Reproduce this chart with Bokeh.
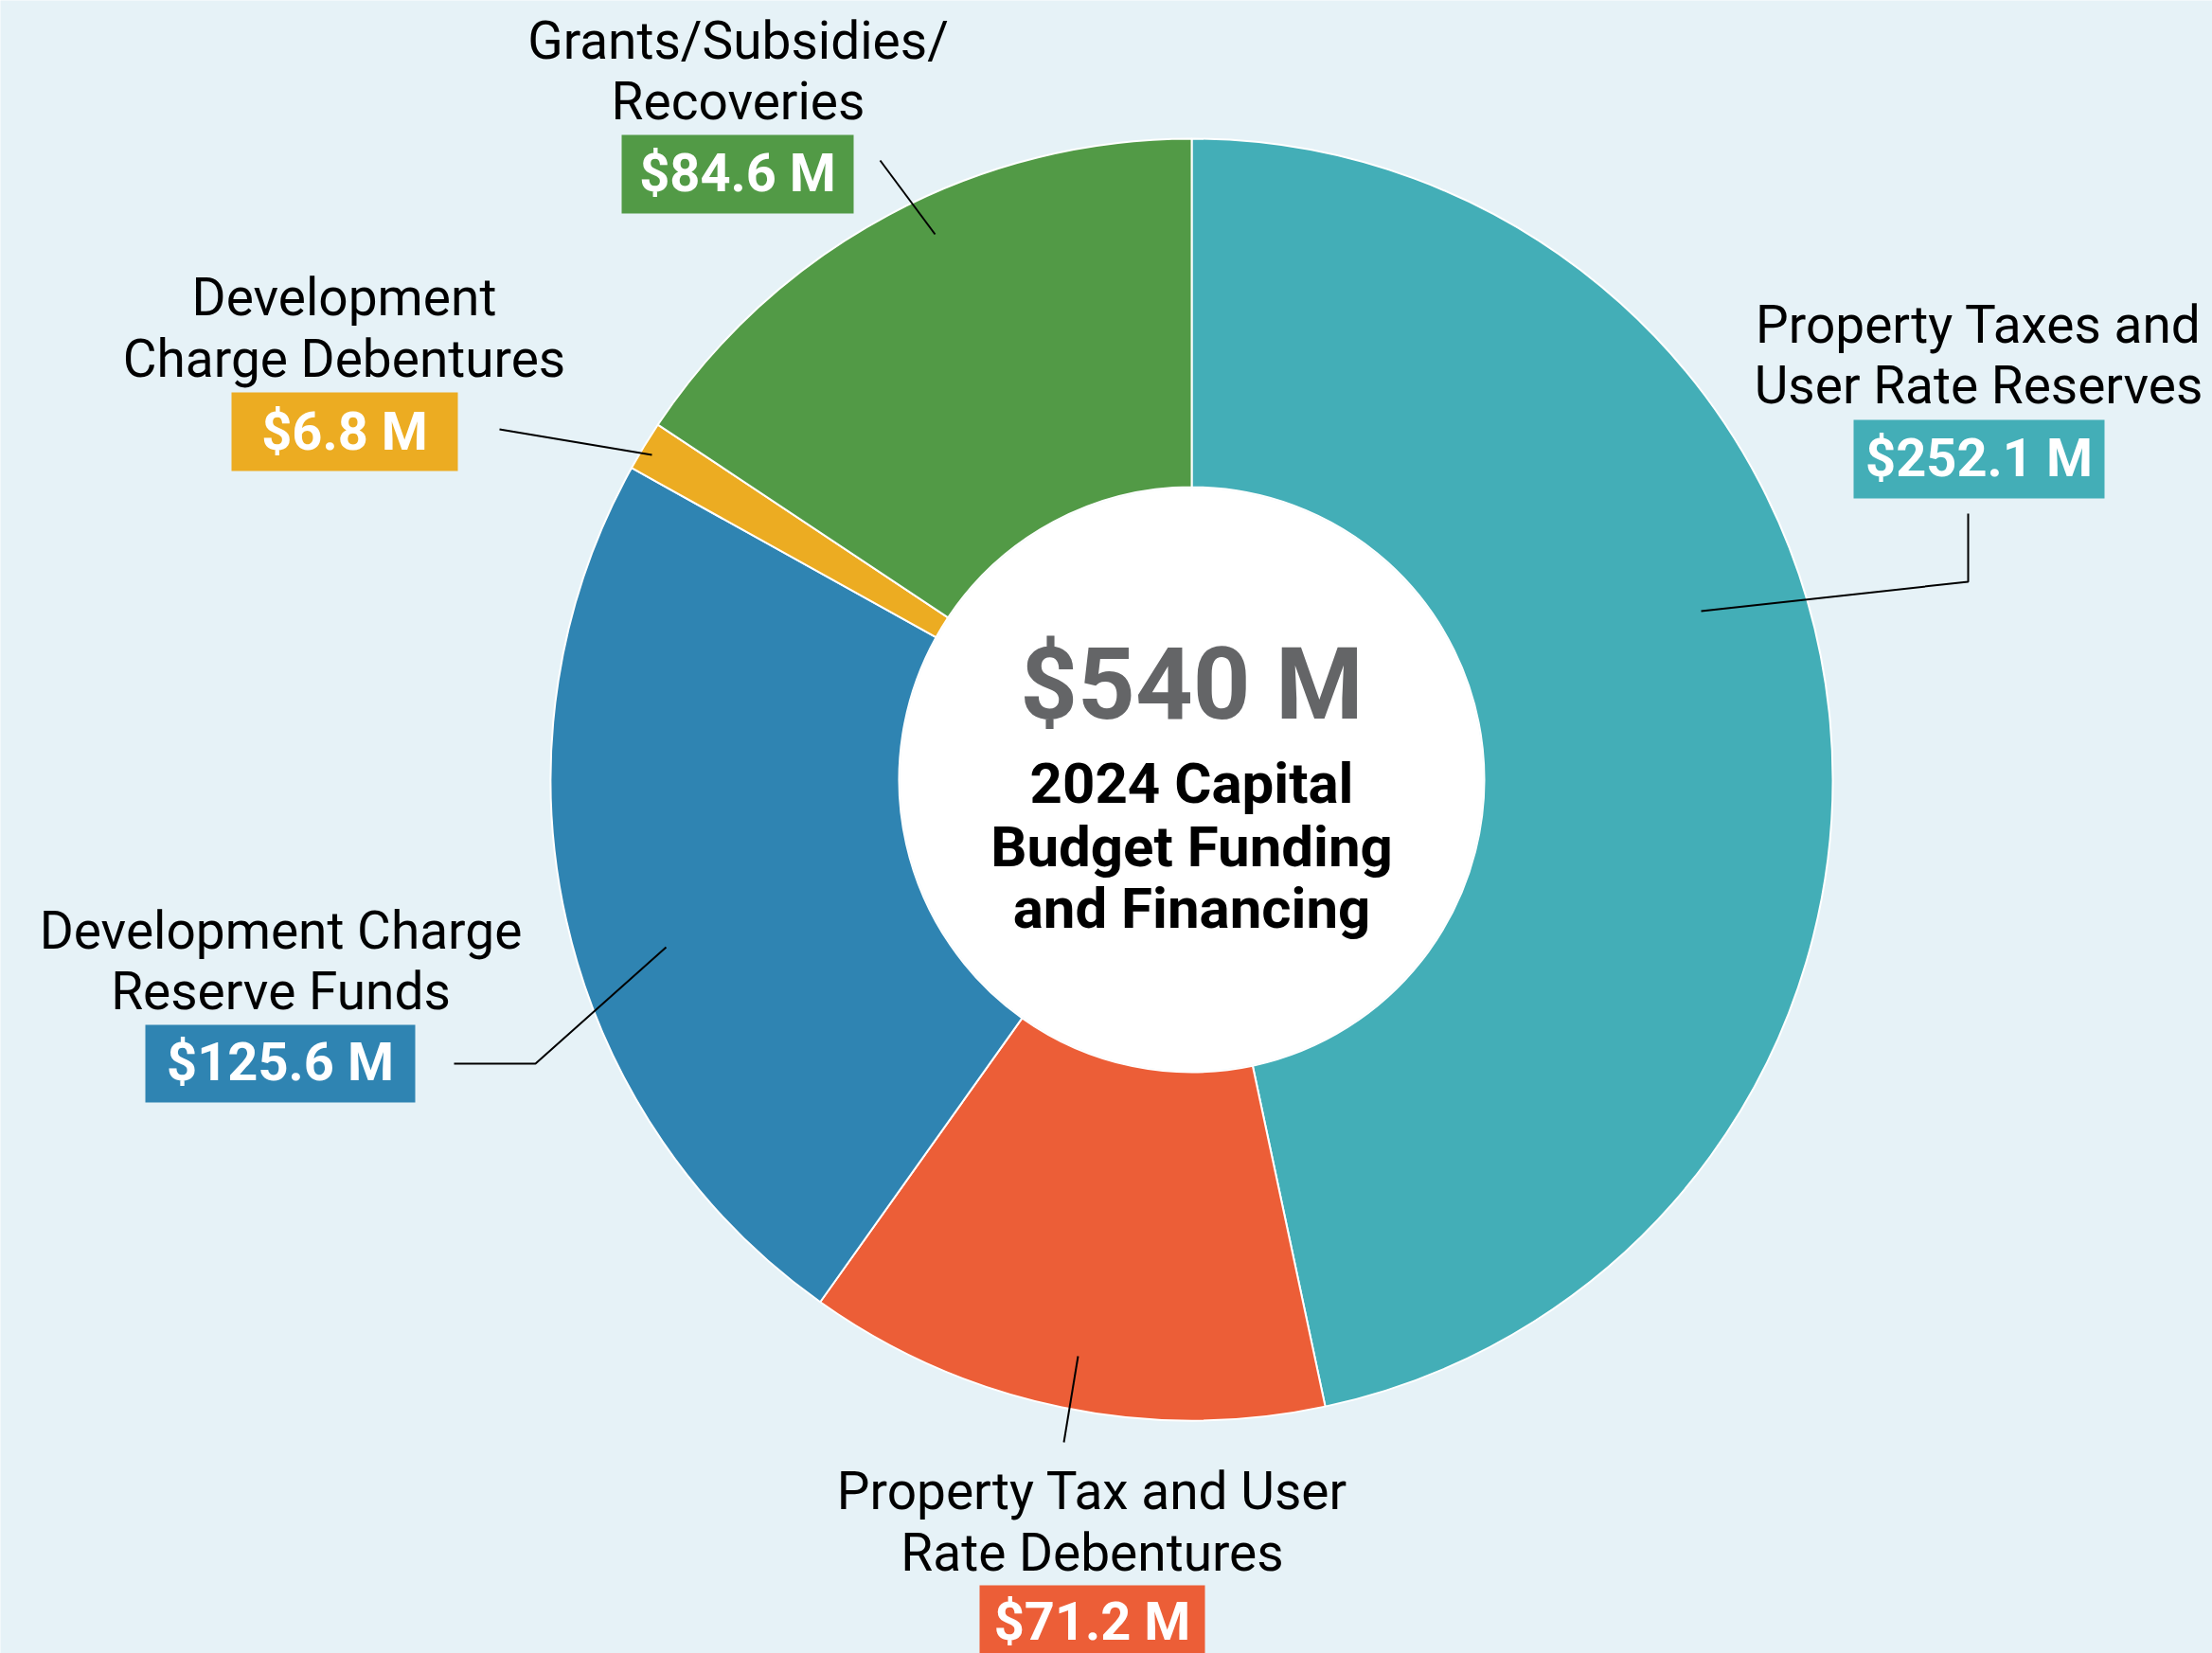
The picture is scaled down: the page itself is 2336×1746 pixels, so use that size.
from bokeh.plotting import figure
from bokeh.models import Range1d, ColumnDataSource
from bokeh.core.properties import value
from bokeh.embed import file_html
from bokeh.resources import INLINE
import numpy as np

# ---------------- data ----------------
categories = [
    "Property Taxes and User Rate Reserves",
    "Property Tax and User Rate Debentures",
    "Development Charge Reserve Funds",
    "Development Charge Debentures",
    "Grants/Subsidies/Recoveries",
]
amounts = [252.1, 71.2, 125.6, 6.8, 84.6]
value_labels = ["$252.1 M", "$71.2 M", "$125.6 M", "$6.8 M", "$84.6 M"]
label_lines = [
    ["Property Taxes and", "User Rate Reserves"],
    ["Property Tax and User", "Rate Debentures"],
    ["Development Charge", "Reserve Funds"],
    ["Development", "Charge Debentures"],
    ["Grants/Subsidies/", "Recoveries"],
]
colors = ["#43AEB7", "#EC5E37", "#2F84B2", "#ECAC22", "#529A46"]
total_label = "$540 M"
title_lines = ["2024 Capital", "Budget Funding", "and Financing"]

# ---------------- layout (reference pixel positions) ----------------
W, H = 2336, 1746
BASE_SHIFT = 0.35  # renderer places alphabetic baseline this many em lower

def Y(py):
    return H - py

def YT(py, size):
    return H - (py - BASE_SHIFT * size)

BG = "#E6F2F7"
CX, CY = 1258, 823
R_OUT, R_IN = 677, 309

label_pos = [
    dict(cx=2089, b1=362, b2=426, bv=503, box=(1957, 2222, 443, 526)),
    dict(cx=1153, b1=1594, b2=1659, bv=1732, box=(1034, 1272, 1674, 1760)),
    dict(cx=296, b1=1002, b2=1066, bv=1141, box=(153, 438, 1082, 1164)),
    dict(cx=363, b1=333, b2=398, bv=475, box=(244, 483, 414, 497)),
    dict(cx=779, b1=62, b2=126, bv=202, box=(656, 901, 142, 225)),
]
leaders = [
    [(2078, 542), (2078, 614), (1796, 645)],
    [(1138, 1432), (1123, 1523)],
    [(479, 1123), (565, 1123), (703, 1000)],
    [(527, 453), (688, 480)],
    [(929, 169), (987, 247)],
]

p = figure(width=W, height=H, output_backend="svg", toolbar_location=None,
           x_range=Range1d(0, W), y_range=Range1d(0, H),
           min_border=0, background_fill_color=BG, border_fill_color=BG,
           outline_line_color=None)
p.axis.visible = False
p.grid.visible = False

# wedges
vals = np.array(amounts)
frac = np.cumsum(np.concatenate([[0], vals])) / vals.sum()
starts = np.pi / 2 - frac[:-1] * 2 * np.pi
ends = np.pi / 2 - frac[1:] * 2 * np.pi
src = ColumnDataSource(dict(start=starts, end=ends, color=colors, name=categories, amt=amounts))
p.annular_wedge(x=CX, y=Y(CY), inner_radius=R_IN, outer_radius=R_OUT,
                inner_radius_units="screen", outer_radius_units="screen",
                start_angle="start", end_angle="end", direction="clock",
                fill_color="color", line_color="white", line_width=2, source=src)
p.circle(x=CX, y=Y(CY), radius=R_IN - 1, radius_units="screen",
         fill_color="white", line_color=None)

REG = value("Roboto")
LS, VS = 55, 56
for i, lp in enumerate(label_pos):
    l, r, t, b = lp["box"]
    p.quad(left=l, right=r, top=Y(t), bottom=Y(b), fill_color=colors[i], line_color=None)
    p.text(x=[lp["cx"]] * 2, y=[YT(lp["b1"], LS), YT(lp["b2"], LS)], text=label_lines[i],
           text_font=REG, text_font_size="%dpx" % LS, text_color="#000000",
           text_align="center", text_baseline="alphabetic")
    p.text(x=[(l + r) / 2], y=[YT(lp["bv"], VS)], text=[value_labels[i]],
           text_font=REG, text_font_style="bold", text_font_size="%dpx" % VS,
           text_color="white", text_align="center", text_baseline="alphabetic")
    xs = [pt[0] for pt in leaders[i]]
    ys = [Y(pt[1]) for pt in leaders[i]]
    p.line(xs, ys, line_color="black", line_width=2)

# center text
TS, SS = 106, 60
p.text(x=[CX], y=[YT(760, TS)], text=[total_label], text_font=REG, text_font_style="bold",
       text_font_size="%dpx" % TS, text_color="#646567", text_align="center",
       text_baseline="alphabetic")
p.text(x=[CX] * 3, y=[YT(848, SS), YT(915, SS), YT(980, SS)], text=title_lines, text_font=REG,
       text_font_style="bold", text_font_size="%dpx" % SS, text_color="#000000",
       text_align="center", text_baseline="alphabetic")

html = file_html(p, INLINE)
html = html.replace("<body>", '<body style="background-color:%s; margin:0; overflow:hidden;">' % BG, 1)
open("out.html", "w").write(html)
